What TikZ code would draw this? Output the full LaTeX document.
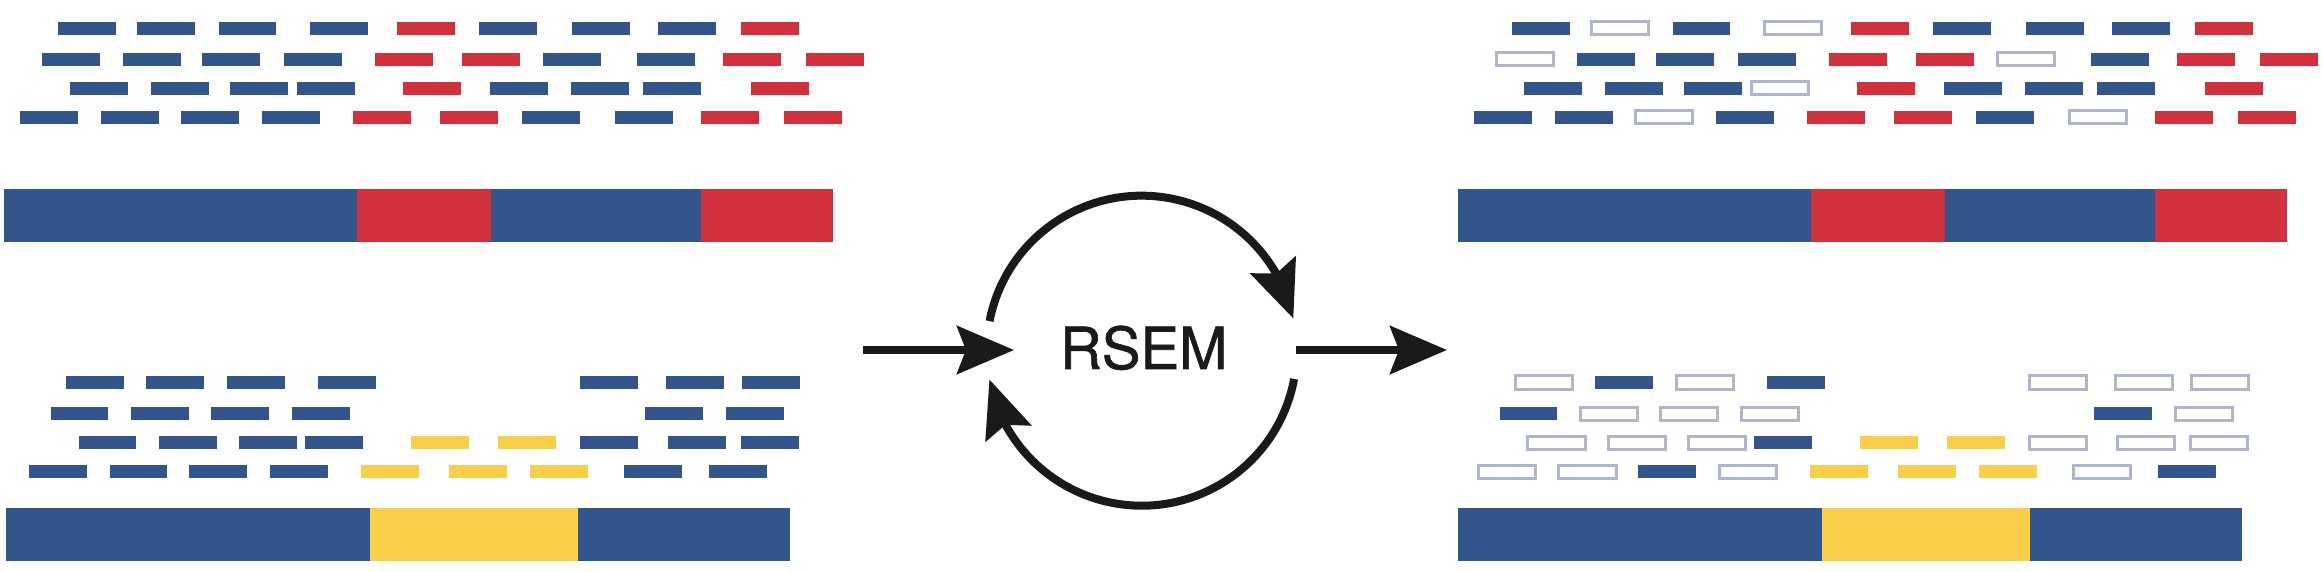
\documentclass[tikz,border=0pt]{standalone}
\usepackage{fontspec}
\setsansfont{TeX Gyre Heros}
\usetikzlibrary{arrows.meta,bending,calc}
\definecolor{rblue}{RGB}{50,85,139}
\definecolor{rred}{RGB}{211,48,62}
\definecolor{ryel}{RGB}{249,207,72}
\definecolor{rout}{RGB}{176,181,206}
\definecolor{rblk}{RGB}{26,26,26}
\newcommand\readbox[3]{\edef\tmpst{\noexpand\path[#1]}\tmpst ({#2},{558-#3}) rectangle ++(57.7,13);}
\begin{document}
\begin{tikzpicture}[x=1pt,y=1pt,
  B/.style={fill=rblue},
  R/.style={fill=rred},
  Y/.style={fill=ryel},
  O/.style={draw=rout,line width=3pt,fill=white},
  arr/.style={draw=rblk,line width=7.5pt,-{Stealth[length=57pt,width=48pt,inset=9pt]}},
]
\useasboundingbox (0,0) rectangle (2322,571);
% ---------- top reads (left, right = +1454)
\foreach \x/\a/\b in {58/B/B,137/B/O,218.5/B/B,310/B/O,397/R/R,479/B/B,572/B/B,658/B/B,741/R/R}
  {\readbox{\a}{\x}{22}\readbox{\b}{\x+1454}{22}}
\foreach \x/\a/\b in {42/B/O,123/B/B,202/B/B,284/B/B,375/R/R,462/R/R,543/B/O,637/B/B,723/R/R,806/R/R}
  {\readbox{\a}{\x}{53}\readbox{\b}{\x+1454}{53}}
\foreach \x/\a/\b in {70/B/B,151/B/B,230/B/B,297/B/O,403/R/R,490/B/B,571/B/B,643/B/B,751/R/R}
  {\readbox{\a}{\x}{82}\readbox{\b}{\x+1454}{82}}
\foreach \x/\a/\b in {20/B/B,101/B/B,181/B/O,262/B/B,353/R/R,440/R/R,522/B/B,615/B/O,701/R/R,784/R/R}
  {\readbox{\a}{\x}{111}\readbox{\b}{\x+1454}{111}}
% ---------- bottom reads (left, right = +1449)
\foreach \x/\a/\b in {66/B/O,146/B/B,227/B/O,318/B/B,580/B/O,666/B/O,742/B/O}
  {\readbox{\a}{\x}{376}\readbox{\b}{\x+1449}{376}}
\foreach \x/\a/\b in {50.5/B/B,131/B/O,211/B/O,292/B/O,645/B/B,726/B/O}
  {\readbox{\a}{\x}{407}\readbox{\b}{\x+1449}{407}}
\foreach \x/\a/\b in {78.5/B/O,159/B/O,239/B/O,305/B/B,411/Y/Y,498/Y/Y,580/B/O,668/B/O,741/B/O}
  {\readbox{\a}{\x}{436}\readbox{\b}{\x+1449}{436}}
\foreach \x/\a/\b in {29/B/O,109.5/B/O,189/B/B,270/B/O,361/Y/Y,449/Y/Y,530/Y/Y,624/B/O,709/B/B}
  {\readbox{\a}{\x}{465}\readbox{\b}{\x+1449}{465}}
% ---------- transcript bars
\foreach \o in {0,1454}{
  \path[B] (4.4+\o,329) rectangle (357+\o,382);
  \path[R] (357+\o,329) rectangle (491+\o,382);
  \path[B] (491+\o,329) rectangle (701+\o,382);
  \path[R] (701+\o,329) rectangle (832.6+\o,382);
}
\foreach \o in {0,1452}{
  \path[B] (6+\o,10) rectangle (370+\o,63);
  \path[Y] (370+\o,10) rectangle (578+\o,63);
  \path[B] (578+\o,10) rectangle (790+\o,63);
}
% ---------- RSEM cycle
\node[font=\sffamily\fontsize{58}{60}\selectfont\addfontfeatures{FakeBold=1},anchor=base,inner sep=0pt,text=rblk] (rsem) at (1143.7,202) {RSEM};
\coordinate (c) at (1141.7,220.3);
\coordinate (inA) at (863,221);
\coordinate (inB) at (1014,221);
\coordinate (outA) at (1296,221);
\coordinate (outB) at (1447,221);
\draw[arr] (inA) -- (inB);
\draw[arr] (outA) -- (outB);
\draw[arr,line width=8pt] ($(c)+(169:155)$) arc[start angle=169,end angle=12,radius=155];
\draw[arr,line width=8pt] ($(c)+(-10.5:155)$) arc[start angle=-10.5,end angle=-169.3,radius=155];
\end{tikzpicture}
\end{document}
